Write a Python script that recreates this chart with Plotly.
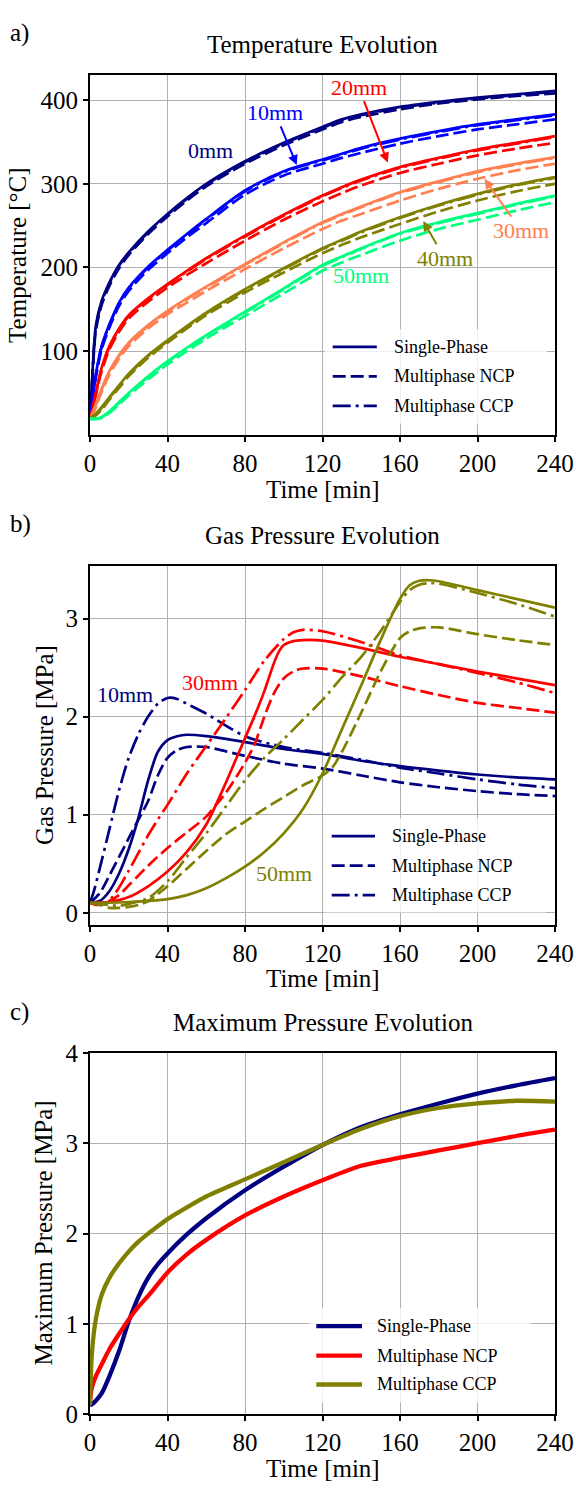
import plotly.graph_objects as go

FONT = "Liberation Serif, Tinos, DejaVu Serif, serif"
NAVY, BLUE, RED = "#000080", "#0000ff", "#ff0000"
CORAL, OLIVE, SPRING = "#ff7f50", "#808000", "#00ff7f"
GRID = "#b0b0b0"

# ---------------- a) temperature at depth [°C] ----------------
time_temp = [0, 1, 3, 6, 10, 15, 20, 30, 40, 50, 60, 80, 100, 120, 130, 140, 160, 180, 200, 220, 240]

temp_0mm_single = [20, 62, 130, 160, 182, 203, 218, 243, 264, 283, 300, 327, 349, 368, 377, 383, 392, 398, 403, 407, 411]
temp_0mm_ncp = [20, 58, 124, 155, 178, 199, 215, 240, 261, 280, 297, 324, 346, 365, 374, 380, 389, 396, 401, 405, 408]
temp_0mm_ccp = [20, 60, 128, 158, 181, 202, 217, 242, 263, 282, 299, 326, 348, 367, 376, 382, 391, 397, 402, 406, 410]

temp_10mm_single = [20, 38, 72, 106, 132, 158, 176, 201, 221, 240, 258, 292, 315, 329, 336, 343, 354, 363, 371, 377, 383]
temp_10mm_ncp = [20, 35, 68, 102, 128, 154, 172, 197, 217, 236, 253, 287, 310, 324, 331, 337, 348, 357, 365, 371, 377]
temp_10mm_ccp = [20, 37, 71, 105, 131, 157, 175, 200, 220, 239, 257, 291, 314, 328, 335, 342, 353, 362, 370, 376, 382]

temp_20mm_single = [20, 28, 50, 80, 106, 127, 143, 163, 180, 196, 211, 238, 263, 286, 296, 305, 320, 331, 341, 349, 357]
temp_20mm_ncp = [20, 26, 47, 76, 102, 123, 139, 159, 176, 191, 205, 232, 257, 279, 289, 298, 313, 324, 334, 342, 349]
temp_20mm_ccp = [20, 27, 49, 79, 105, 126, 142, 162, 179, 195, 210, 237, 262, 285, 295, 304, 319, 330, 340, 348, 356]

temp_30mm_single = [20, 24, 36, 55, 76, 95, 110, 131, 148, 163, 177, 204, 230, 254, 264, 273, 290, 303, 315, 324, 332]
temp_30mm_ncp = [20, 22, 33, 51, 72, 91, 106, 127, 144, 158, 172, 198, 223, 246, 256, 264, 280, 294, 306, 316, 324]
temp_30mm_ccp = [20, 23, 35, 54, 75, 94, 109, 130, 147, 162, 176, 203, 229, 253, 263, 272, 289, 302, 314, 323, 331]

temp_40mm_single = [20, 21, 25, 33, 45, 59, 73, 95, 113, 130, 146, 174, 199, 223, 233, 243, 260, 275, 288, 299, 308]
temp_40mm_ncp = [20, 20, 23, 30, 42, 56, 70, 92, 110, 127, 143, 170, 194, 217, 227, 236, 252, 267, 280, 291, 300]
temp_40mm_ccp = [20, 21, 24, 32, 44, 58, 72, 94, 112, 129, 145, 173, 198, 222, 232, 242, 259, 274, 287, 298, 307]

temp_50mm_single = [19, 19, 19, 21, 28, 39, 50, 70, 88, 104, 119, 147, 175, 203, 213, 223, 241, 254, 265, 276, 286]
temp_50mm_ncp = [19, 19, 19, 20, 26, 36, 47, 66, 84, 100, 115, 142, 169, 196, 206, 215, 232, 246, 257, 268, 278]
temp_50mm_ccp = [19, 19, 19, 21, 27, 38, 49, 69, 87, 103, 118, 146, 174, 202, 212, 222, 240, 253, 264, 275, 285]

# ---------------- b) gas pressure at depth [MPa] ----------------
gp_10mm_single_t = [0, 5, 10, 15, 20, 25, 30, 35, 40, 45, 50, 60, 80, 100, 120, 140, 160, 180, 200, 220, 240]
gp_10mm_single = [0.10, 0.12, 0.22, 0.40, 0.65, 0.97, 1.35, 1.64, 1.76, 1.80, 1.815, 1.80, 1.74, 1.67, 1.62, 1.55, 1.495, 1.45, 1.41, 1.38, 1.36]
gp_10mm_ncp_t = [0, 5, 10, 15, 20, 25, 30, 35, 40, 45, 50, 55, 60, 80, 100, 120, 140, 160, 180, 200, 220, 240]
gp_10mm_ncp = [0.10, 0.20, 0.38, 0.57, 0.76, 0.95, 1.14, 1.40, 1.58, 1.66, 1.69, 1.695, 1.69, 1.60, 1.52, 1.47, 1.40, 1.33, 1.28, 1.24, 1.21, 1.19]
gp_10mm_ccp_t = [0, 2, 5, 10, 15, 20, 25, 30, 35, 40, 45, 50, 60, 80, 100, 120, 140, 160, 180, 200, 220, 240]
gp_10mm_ccp = [0.10, 0.22, 0.45, 0.85, 1.25, 1.58, 1.82, 2.00, 2.13, 2.19, 2.18, 2.13, 2.03, 1.80, 1.69, 1.63, 1.56, 1.48, 1.42, 1.36, 1.31, 1.27]

gp_30mm_single_t = [0, 10, 20, 30, 40, 50, 60, 70, 75, 80, 85, 90, 95, 98, 100, 105, 110, 120, 140, 160, 180, 200, 220, 240]
gp_30mm_single = [0.10, 0.11, 0.16, 0.27, 0.42, 0.62, 0.90, 1.32, 1.55, 1.78, 2.01, 2.26, 2.55, 2.68, 2.73, 2.77, 2.78, 2.775, 2.70, 2.61, 2.535, 2.46, 2.39, 2.32]
gp_30mm_ncp_t = [0, 5, 10, 15, 20, 25, 30, 40, 50, 60, 65, 70, 80, 85, 90, 95, 100, 105, 110, 120, 140, 160, 180, 200, 220, 240]
gp_30mm_ncp = [0.10, 0.10, 0.12, 0.18, 0.28, 0.38, 0.48, 0.66, 0.82, 0.98, 1.10, 1.22, 1.53, 1.72, 2.00, 2.24, 2.39, 2.46, 2.49, 2.49, 2.41, 2.31, 2.22, 2.14, 2.09, 2.04]
gp_30mm_ccp_t = [0, 4, 8, 12, 16, 20, 25, 30, 35, 40, 50, 60, 70, 80, 90, 100, 105, 110, 120, 140, 160, 180, 200, 220, 240]
gp_30mm_ccp = [0.10, 0.08, 0.10, 0.17, 0.29, 0.43, 0.61, 0.79, 0.95, 1.10, 1.42, 1.70, 1.98, 2.27, 2.57, 2.79, 2.86, 2.885, 2.87, 2.76, 2.625, 2.535, 2.445, 2.35, 2.24]

gp_50mm_single_t = [0, 20, 40, 50, 60, 70, 80, 90, 100, 110, 120, 130, 140, 150, 160, 165, 170, 175, 180, 200, 220, 240]
gp_50mm_single = [0.10, 0.11, 0.14, 0.18, 0.25, 0.35, 0.47, 0.62, 0.81, 1.06, 1.42, 1.87, 2.32, 2.78, 3.20, 3.34, 3.385, 3.39, 3.38, 3.29, 3.20, 3.11]
gp_50mm_ncp_t = [0, 5, 10, 15, 20, 25, 30, 35, 40, 50, 60, 70, 80, 90, 100, 110, 120, 125, 130, 140, 150, 160, 165, 170, 180, 200, 220, 240]
gp_50mm_ncp = [0.10, 0.08, 0.05, 0.05, 0.06, 0.08, 0.12, 0.19, 0.27, 0.45, 0.63, 0.80, 0.93, 1.06, 1.18, 1.30, 1.40, 1.48, 1.64, 2.04, 2.46, 2.80, 2.87, 2.90, 2.91, 2.84, 2.78, 2.73]
gp_50mm_ccp_t = [0, 10, 15, 20, 30, 40, 50, 60, 70, 80, 90, 100, 110, 120, 130, 140, 150, 160, 165, 170, 175, 180, 200, 220, 240]
gp_50mm_ccp = [0.10, 0.08, 0.07, 0.09, 0.15, 0.32, 0.57, 0.81, 1.08, 1.35, 1.58, 1.77, 1.97, 2.17, 2.40, 2.61, 2.87, 3.17, 3.29, 3.345, 3.36, 3.355, 3.26, 3.15, 3.02]

# ---------------- c) maximum pressure [MPa] ----------------
time_max = [0, 1, 3, 6, 10, 15, 20, 25, 30, 35, 40, 50, 60, 80, 100, 120, 140, 160, 180, 200, 220, 240]
pmax_single = [0.10, 0.11, 0.15, 0.23, 0.42, 0.70, 1.03, 1.30, 1.51, 1.66, 1.78, 1.99, 2.17, 2.48, 2.74, 2.98, 3.18, 3.32, 3.44, 3.55, 3.64, 3.72]
pmax_ncp = [0.15, 0.30, 0.42, 0.55, 0.72, 0.89, 1.05, 1.19, 1.31, 1.44, 1.57, 1.77, 1.93, 2.20, 2.41, 2.59, 2.75, 2.84, 2.92, 3.00, 3.08, 3.15]
pmax_ccp = [0.10, 0.68, 1.05, 1.32, 1.51, 1.67, 1.80, 1.91, 2.00, 2.08, 2.16, 2.29, 2.41, 2.60, 2.79, 2.98, 3.16, 3.30, 3.39, 3.44, 3.47, 3.46]

time_ticks = [0, 40, 80, 120, 160, 200, 240]
temp_ticks = [100, 200, 300, 400]
gp_ticks = [0, 1, 2, 3]
pmax_ticks = [0, 1, 2, 3, 4]

MODEL_NAMES = ["Single-Phase", "Multiphase NCP", "Multiphase CCP"]

# page geometry (pixels)
W, H = 576, 1496
L, R = 90, 21
PLOT_W = W - L - R
PANELS = {  # top / bottom of each plotting area
    "a": (62.7, 430.0),
    "b": (562.7, 928.3),
    "c": (1059.0, 1427.0),
}


def py(pix):
    return 1 - pix / H


def px(pix):
    return (pix - L) / PLOT_W


SOLID, DASH, DASHDOT = "solid", "13px,5px", "18px,5px,3px,5px"
STYLES = [SOLID, DASH, DASHDOT]

fig = go.Figure()


def line(x, y, color, dash, axis, width=2.7):
    xa, ya = axis
    fig.add_trace(go.Scatter(
        x=x, y=y, mode="lines", xaxis=xa, yaxis=ya, showlegend=False,
        line=dict(color=color, width=width, dash=dash, shape="spline", smoothing=0.8),
        hoverinfo="skip"))


# a) temperatures
temp_sets = [
    (NAVY, temp_0mm_single, temp_0mm_ncp, temp_0mm_ccp),
    (BLUE, temp_10mm_single, temp_10mm_ncp, temp_10mm_ccp),
    (RED, temp_20mm_single, temp_20mm_ncp, temp_20mm_ccp),
    (CORAL, temp_30mm_single, temp_30mm_ncp, temp_30mm_ccp),
    (OLIVE, temp_40mm_single, temp_40mm_ncp, temp_40mm_ccp),
    (SPRING, temp_50mm_single, temp_50mm_ncp, temp_50mm_ccp),
]
for color, *series in temp_sets:
    for vals, dash in zip(series, STYLES):
        line(time_temp, vals, color, dash, ("x", "y"))

# b) gas pressures
gp_sets = [
    (NAVY, [(gp_10mm_single_t, gp_10mm_single), (gp_10mm_ncp_t, gp_10mm_ncp), (gp_10mm_ccp_t, gp_10mm_ccp)]),
    (RED, [(gp_30mm_single_t, gp_30mm_single), (gp_30mm_ncp_t, gp_30mm_ncp), (gp_30mm_ccp_t, gp_30mm_ccp)]),
    (OLIVE, [(gp_50mm_single_t, gp_50mm_single), (gp_50mm_ncp_t, gp_50mm_ncp), (gp_50mm_ccp_t, gp_50mm_ccp)]),
]
for color, series in gp_sets:
    for (tt, vals), dash in zip(series, STYLES):
        line(tt, vals, color, dash, ("x2", "y2"))

# c) maximum pressure
PMAX_COLORS = [NAVY, RED, OLIVE]
for vals, color in zip([pmax_single, pmax_ncp, pmax_ccp], PMAX_COLORS):
    line(time_max, vals, color, SOLID, ("x3", "y3"), width=4.3)

axis_style = dict(
    showline=True, linecolor="black", linewidth=2.2, mirror=True,
    ticks="outside", ticklen=5, tickwidth=1.5, tickcolor="black",
    showgrid=True, gridcolor=GRID, gridwidth=1.4, zeroline=False,
    tickfont=dict(family=FONT, size=25, color="black"),
)

layout = dict(
    width=W, height=H,
    margin=dict(l=L, r=R, t=0, b=0),
    paper_bgcolor="white", plot_bgcolor="white",
    font=dict(family=FONT, size=25, color="black"),
    hovermode=False, showlegend=False,
)

y_ranges = {"a": [-0.6, 430.6], "b": [-0.12, 3.54], "c": [0, 4]}
y_ticks = {"a": temp_ticks, "b": gp_ticks, "c": pmax_ticks}
for key, suffix in [("a", ""), ("b", "2"), ("c", "3")]:
    top, bot = PANELS[key]
    layout["xaxis" + suffix] = dict(axis_style, domain=[0, 1], range=[0, 240],
                                     tickvals=time_ticks, anchor="y" + suffix)
    layout["yaxis" + suffix] = dict(axis_style, domain=[py(bot), py(top)], range=y_ranges[key],
                                     tickvals=y_ticks[key], anchor="x" + suffix)
fig.update_layout(**layout)

# legend boxes: (box x0, x1, y0, y1), key line x0/x1, text x, row centres
LEGENDS = [
    ((325, 547, 322, 418), (332.7, 376.8), 391.5, (340, 370, 400),
     [(NAVY, SOLID, 2.7), (NAVY, DASH, 2.7), (NAVY, DASHDOT, 2.7)]),
    ((324, 546, 820, 916), (331.7, 375.0), 390.0, (838.3, 868.3, 898.3),
     [(NAVY, SOLID, 2.7), (NAVY, DASH, 2.7), (NAVY, DASHDOT, 2.7)]),
    ((309, 531, 1319, 1415), (316.3, 362.0), 375.0, (1337.3, 1367.3, 1396.7),
     [(c, SOLID, 4.3) for c in PMAX_COLORS]),
]
for (bx0, bx1, by0, by1), (lx0, lx1), tx, rows, keys in LEGENDS:
    fig.add_shape(type="rect", xref="paper", yref="paper",
                  x0=px(bx0), x1=px(bx1), y0=py(by1), y1=py(by0),
                  fillcolor="rgba(255,255,255,0.8)", line=dict(width=0), layer="above")
    for name, yr, (color, dash, width) in zip(MODEL_NAMES, rows, keys):
        fig.add_shape(type="line", xref="paper", yref="paper",
                      x0=px(lx0), x1=px(lx1), y0=py(yr), y1=py(yr),
                      line=dict(color=color, width=width, dash=dash), layer="above")
        fig.add_annotation(text=name, xref="paper", yref="paper", x=px(tx), y=py(yr),
                           xanchor="left", yanchor="middle", showarrow=False,
                           font=dict(family=FONT, size=18, color="black"))

# titles, panel letters, axis titles
titles = {"a": "Temperature Evolution", "b": "Gas Pressure Evolution", "c": "Maximum Pressure Evolution"}
ytitles = {"a": ("Temperature [°C]", 18), "b": ("Gas Pressure [MPa]", 44), "c": ("Maximum Pressure [MPa]", 44)}
for key in ["a", "b", "c"]:
    top, bot = PANELS[key]
    fig.add_annotation(text=titles[key], xref="paper", yref="paper", x=0.5, y=py(top - 31),
                       xanchor="center", yanchor="middle", showarrow=False,
                       font=dict(family=FONT, size=25, color="black"))
    fig.add_annotation(text=key + ")", xref="paper", yref="paper", x=px(8), y=py(top - 42),
                       xanchor="left", yanchor="middle", showarrow=False,
                       font=dict(family=FONT, size=25, color="black"))
    fig.add_annotation(text="Time [min]", xref="paper", yref="paper", x=0.5, y=py(bot + 55),
                       xanchor="center", yanchor="middle", showarrow=False,
                       font=dict(family=FONT, size=25, color="black"))
    label, xc = ytitles[key]
    fig.add_annotation(text=label, xref="paper", yref="paper", x=px(xc), y=py((top + bot) / 2),
                       xanchor="center", yanchor="middle", showarrow=False, textangle=-90,
                       font=dict(family=FONT, size=25, color="black"))

# depth labels in a)
depth_labels_a = [
    ("0mm", NAVY, 62.4, 340, None, None),
    ("10mm", BLUE, 95.4, 385.4, 106.7, 322.4),
    ("20mm", RED, 138.6, 415.6, 153.7, 325.4),
    ("30mm", CORAL, 222.5, 244, 203.6, 305.9),
    ("40mm", OLIVE, 183, 211, 172, 255.6),
    ("50mm", SPRING, 140, 190, None, None),
]
for text, color, tx, ty, hx, hy in depth_labels_a:
    if hx is None:
        fig.add_annotation(text=text, x=tx, y=ty, xref="x", yref="y", showarrow=False,
                           font=dict(family=FONT, size=22, color=color))
    else:
        fig.add_annotation(text=text, x=hx, y=hy, xref="x", yref="y",
                           ax=tx, ay=ty, axref="x", ayref="y",
                           showarrow=True, arrowhead=2, arrowsize=1, arrowwidth=2,
                           arrowcolor=color, standoff=0,
                           font=dict(family=FONT, size=22, color=color))

# depth labels in b)
for text, color, tx, ty in [("10mm", NAVY, 17.9, 2.227), ("30mm", RED, 61.8, 2.35), ("50mm", OLIVE, 100, 0.405)]:
    fig.add_annotation(text=text, x=tx, y=ty, xref="x2", yref="y2", showarrow=False,
                       font=dict(family=FONT, size=22, color=color))

fig.write_html("out.html")
